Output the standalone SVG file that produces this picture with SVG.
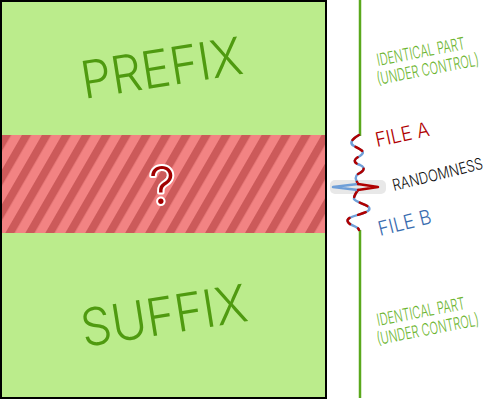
<svg xmlns="http://www.w3.org/2000/svg" width="489" height="400" viewBox="0 0 489 400">
<style>
.hand{font-family:Inter,"Open Sans","Liberation Sans",sans-serif;font-weight:300}
.big{font-size:52px;fill:#4f9a10}
.lbl{font-size:17px}
.green{fill:#6cb52e}
.sq{fill:none;stroke-width:2.5;stroke-linejoin:round;stroke-linecap:round}
</style>
<defs>
<pattern id="stripes" patternUnits="userSpaceOnUse" width="17.3" height="40" patternTransform="rotate(30)">
<rect width="17.3" height="40" fill="#f28383"/>
<rect width="8" height="40" fill="#cc5a5a"/>
</pattern>
</defs>
<rect width="489" height="400" fill="#fff"/>
<g id="block">
<rect x="1" y="1" width="325" height="397" fill="#bbec8c" stroke="#000" stroke-width="2"/>
<rect x="2" y="135" width="323" height="98" fill="url(#stripes)"/>
</g>
<g id="prefix"><text class="hand big" transform="translate(84,99) rotate(-9) scale(0.93,1)">PREFIX</text></g>
<g id="suffix"><text class="hand big" transform="translate(84,347) rotate(-9) scale(0.93,1)">SUFFIX</text></g>
<g id="unknown"><text class="hand" x="162" y="204" text-anchor="middle" font-size="52" fill="#a00000" stroke="#fff" stroke-width="4" paint-order="stroke" stroke-linejoin="round">?</text></g>
<g id="connectors">
<line x1="360" y1="0" x2="360" y2="136" stroke="#5aa81c" stroke-width="2.5"/>
<line x1="360" y1="230" x2="360" y2="398" stroke="#5aa81c" stroke-width="2.5"/>
<rect x="330" y="180" width="56" height="14" rx="5" fill="#e8e8e8"/>
<path class="sq" stroke="#6f9fd8" d="M359,135 C350,140 350,144 354,146 C362,150 366,152 360,156 C352,160 354,163 360,165 C366,168 364,171 358,174 C354,177 356,180 358,184 M358,190 C355,194 354,196 354,199 C356,203 372,205 369,210 C365,215 344,216 348,222 C350,226 358,226 359,230"/>
<path class="sq" stroke="#b00000" stroke-dasharray="8 9" d="M359,135 C350,140 350,144 354,146 C362,150 366,152 360,156 C352,160 354,163 360,165 C366,168 364,171 358,174 C354,177 356,180 358,184 M358,190 C355,194 354,196 354,199 C356,203 372,205 369,210 C365,215 344,216 348,222 C350,226 358,226 359,230"/>
<path class="sq" stroke="#6f9fd8" d="M358,184 L333,187 L358,190"/>
<path class="sq" stroke="#b00000" d="M358,184 L378,187 L358,190"/>
</g>
<g id="label-top" class="hand lbl green">
<text transform="translate(378,66) rotate(-11) scale(0.66,1)">IDENTICAL PART</text>
<text transform="translate(378,85) rotate(-11) scale(0.66,1)">(UNDER CONTROL)</text>
</g>
<g id="label-bottom" class="hand lbl green">
<text transform="translate(378,326) rotate(-11) scale(0.66,1)">IDENTICAL PART</text>
<text transform="translate(378,345) rotate(-11) scale(0.66,1)">(UNDER CONTROL)</text>
</g>
<g id="file-a"><text class="hand" font-size="20" fill="#b00000" transform="translate(377,147) rotate(-12) scale(0.92,1)">FILE A</text></g>
<g id="randomness"><text class="hand" font-size="16" fill="#111" transform="translate(394,191) rotate(-14) scale(0.82,1)">RANDOMNESS</text></g>
<g id="file-b"><text class="hand" font-size="20" fill="#3a6db0" transform="translate(380,236) rotate(-14) scale(0.92,1)">FILE B</text></g>
</svg>
